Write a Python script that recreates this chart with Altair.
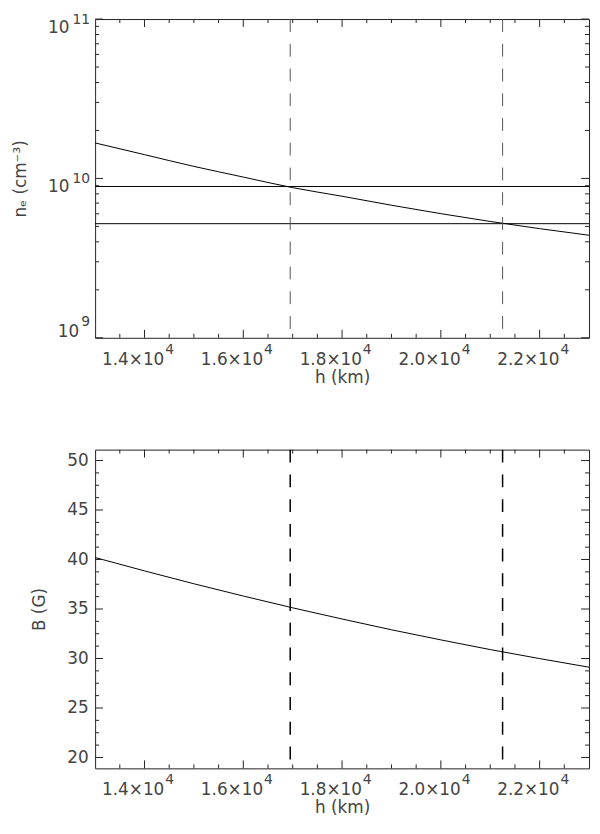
import altair as alt
import pandas as pd

# ---- data ----
h_km = [13000, 14000, 15000, 16000, 17000, 18000, 19000, 20000, 21000, 22000, 23000]
ne_cm3 = [1.67e10, 1.41e10, 1.19e10, 1.02e10, 8.75e9, 7.73e9, 6.79e9, 6.01e9, 5.37e9, 4.84e9, 4.40e9]
B_gauss = [40.20, 38.85, 37.55, 36.31, 35.12, 33.99, 32.90, 31.88, 30.90, 29.99, 29.12]
h_marks = [16950, 21250]
ne_levels = [8.9e9, 5.2e9]

x_major = [14000, 16000, 18000, 20000, 22000]
x_major_text = ["1.4×10", "1.6×10", "1.8×10", "2.0×10", "2.2×10"]
x_major_exp = ["4", "4", "4", "4", "4"]
x_minor = [13500, 14500, 15000, 15500, 16500, 17000, 17500, 18500, 19000, 19500,
           20500, 21000, 21500, 22500]
ne_major = [1e9, 1e10, 1e11]
ne_major_exp = ["9", "10", "11"]
ne_minor = [2e9, 3e9, 4e9, 5e9, 6e9, 7e9, 8e9, 9e9, 2e10, 3e10, 4e10, 5e10, 6e10, 7e10, 8e10, 9e10]
B_major = [20, 25, 30, 35, 40, 45, 50]
B_minor = [21.25, 22.5, 23.75, 26.25, 27.5, 28.75, 31.25, 32.5, 33.75, 36.25, 37.5, 38.75,
           41.25, 42.5, 43.75, 46.25, 47.5, 48.75]

W, H = 499, 322
MAJ, MIN = 8, 4
FONT = "DejaVu Sans"
TXT = "#444"
FRAME = "#222"
FS, FS_EXP = 17, 14

x_scale = alt.Scale(domain=[13000, 23000], nice=False, zero=False)
x_axis = alt.Axis(title="h (km)", values=x_major, labels=False,
                  ticks=False, domain=False, grid=False, titlePadding=32)

ne_scale = alt.Scale(type="log", domain=[1e9, 1e11], nice=False)
ne_axis = alt.Axis(title="nₑ (cm⁻³)", values=ne_major, labels=False,
                   ticks=False, domain=False, grid=False, titlePadding=66)

B_scale = alt.Scale(domain=[18.9, 51.1], nice=False, zero=False)
B_axis = alt.Axis(title="B (G)", values=B_major, format="d",
                  ticks=False, domain=False, grid=False, labelPadding=7, titlePadding=18)


def X():
    return alt.X("h:Q", scale=x_scale, axis=x_axis)


def Yne():
    return alt.Y("v:Q", scale=ne_scale, axis=ne_axis)


def YB():
    return alt.Y("v:Q", scale=B_scale, axis=B_axis)


def tick_layers(y_major, y_minor, Y):
    layers = []
    for vals, L in ((x_major, MAJ), (x_minor, MIN)):
        base = alt.Chart(pd.DataFrame({"h": vals})).mark_rule(color=FRAME, strokeWidth=1)
        layers.append(base.encode(x=X(), y=alt.value(H), y2=alt.value(H - L)))
        layers.append(base.encode(x=X(), y=alt.value(0), y2=alt.value(L)))
    for vals, L in ((y_major, MAJ), (y_minor, MIN)):
        base = alt.Chart(pd.DataFrame({"v": vals})).mark_rule(color=FRAME, strokeWidth=1)
        layers.append(base.encode(y=Y(), x=alt.value(0), x2=alt.value(L)))
        layers.append(base.encode(y=Y(), x=alt.value(W), x2=alt.value(W - L)))
    return layers


def x_label_layers():
    d = pd.DataFrame({"h": x_major, "t": x_major_text, "e": x_major_exp})
    base = alt.Chart(d).mark_text(font=FONT, fontSize=FS, color=TXT, align="right",
                                  baseline="middle", dx=20).encode(
        x=X(), y=alt.value(H + 22), text="t:N")
    expo = alt.Chart(d).mark_text(font=FONT, fontSize=FS_EXP, color=TXT, align="left",
                                  baseline="middle", dx=21).encode(
        x=X(), y=alt.value(H + 12), text="e:N")
    return [base, expo]


ne_lab = pd.DataFrame({"v": ne_major, "e": ne_major_exp, "b": ["10"] * len(ne_major)})
short = "length(datum.e) == 1"
long_ = "length(datum.e) == 2"
ne_base_short = alt.Chart(ne_lab).transform_filter(short).mark_text(
    font=FONT, fontSize=FS, color=TXT, align="right", baseline="middle", dy=-6).encode(
    y=Yne(), x=alt.value(-16), text="b:N")
ne_exp_short = alt.Chart(ne_lab).transform_filter(short).mark_text(
    font=FONT, fontSize=FS_EXP, color=TXT, align="right", baseline="middle", dy=-16).encode(
    y=Yne(), x=alt.value(-5), text="e:N")
ne_base_long = alt.Chart(ne_lab).transform_filter(long_).mark_text(
    font=FONT, fontSize=FS, color=TXT, align="right", baseline="middle", dy=9).encode(
    y=Yne(), x=alt.value(-26), text="b:N")
ne_exp_long = alt.Chart(ne_lab).transform_filter(long_).mark_text(
    font=FONT, fontSize=FS_EXP, color=TXT, align="right", baseline="middle", dy=1).encode(
    y=Yne(), x=alt.value(-5), text="e:N")

top_curve = alt.Chart(pd.DataFrame({"h": h_km, "v": ne_cm3})).mark_line(
    color="black", strokeWidth=1, interpolate="monotone").encode(x=X(), y=Yne())
top_levels = alt.Chart(pd.DataFrame({"v": ne_levels})).mark_rule(
    color="black", strokeWidth=1).encode(y=Yne())
top_dash = alt.Chart(pd.DataFrame({"h": h_marks})).mark_rule(
    color="#555", strokeWidth=1, strokeDash=[13, 12]).encode(x=X())

top = alt.layer(top_curve, top_levels, top_dash,
                *tick_layers(ne_major, ne_minor, Yne),
                *x_label_layers(), ne_base_short, ne_exp_short,
                ne_base_long, ne_exp_long).properties(width=W, height=H)

bot_curve = alt.Chart(pd.DataFrame({"h": h_km, "v": B_gauss})).mark_line(
    color="black", strokeWidth=1, interpolate="monotone").encode(x=X(), y=YB())
bot_dash = alt.Chart(pd.DataFrame({"h": h_marks})).mark_rule(
    color="black", strokeWidth=1.5, strokeDash=[13, 12]).encode(x=X())

bot = alt.layer(bot_curve, bot_dash, *tick_layers(B_major, B_minor, YB),
                *x_label_layers()).properties(width=W, height=H)

chart = alt.vconcat(top, bot, spacing=62).properties(
    padding={"left": 3, "top": 0, "right": 0, "bottom": 0},
    background="white"
).configure_view(stroke=FRAME, strokeWidth=1).configure_axis(
    labelFont=FONT, labelFontSize=FS, labelColor=TXT,
    titleFont=FONT, titleFontSize=FS, titleFontWeight="normal", titleColor=TXT
)

chart.save("out.html", embed_options={"renderer": "svg", "actions": False})
